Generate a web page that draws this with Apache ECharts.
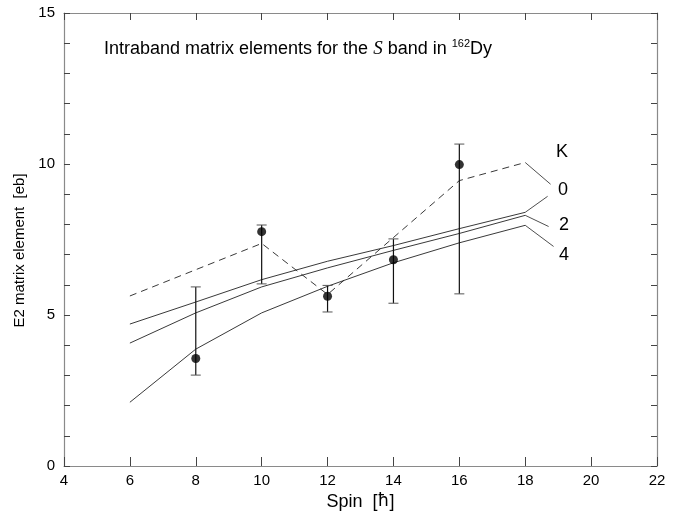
<!DOCTYPE html>
<html><head><meta charset="utf-8">
<script src="https://cdn.jsdelivr.net/npm/echarts@6/dist/echarts.min.js"></script>
<style>html,body{margin:0;padding:0;background:#fff}#c{width:686px;height:518px}</style>
</head><body><div id="c"></div>
<script>
// Spin values
const spins = [6, 8, 10, 12, 14, 16, 18];
// Theoretical curves (K = 0, 2, 4)
const k0 = [4.70, 5.43, 6.17, 6.78, 7.30, 7.86, 8.40];
const k2 = [4.07, 5.07, 5.93, 6.56, 7.14, 7.70, 8.30];
const k4 = [2.11, 3.87, 5.07, 5.95, 6.73, 7.39, 7.97];
// Dashed curve
const dashSpins = [6, 10, 12, 16, 18];
const dashVals = [5.63, 7.37, 5.68, 9.45, 10.05];
// Experimental points with errors
const expSpins = [8, 10, 12, 14, 16];
const expVals = [3.56, 7.76, 5.62, 6.83, 9.98];
const expLow = [3.01, 6.03, 5.10, 5.39, 5.70];
const expHigh = [5.93, 7.98, 5.98, 7.52, 10.66];
// Leader lines from curve ends to labels [from, to]
const leaderDash = [[18, 10.05], [18.77, 9.33]];
const leaderK0 = [[18, 8.40], [18.68, 8.93]];
const leaderK2 = [[18, 8.30], [18.71, 7.93]];
const leaderK4 = [[18, 7.97], [18.86, 7.27]];
const curveLabels = ['K', '0', '2', '4'];

const pair = (xs, ys) => xs.map((x, i) => [x, ys[i]]);
const lineCol = '#222';
const axisCol = '#8a8a8a';
const font = 'Liberation Sans, Arial, Helvetica, sans-serif';

const chart = echarts.init(document.getElementById('c'), null, {renderer: 'canvas'});

function solid(data, w) {
  return {type: 'line', data, showSymbol: false, symbol: 'none', silent: true,
    lineStyle: {color: lineCol, width: w || 0.9}, z: 3, animation: false};
}

chart.setOption({
  animation: false,
  backgroundColor: '#fff',
  title: {
    text: 'Intraband matrix elements for the {i|S} band in {sup|162}Dy',
    left: 99, top: 33,
    textStyle: {
      fontFamily: font, fontSize: 18, fontWeight: 'normal', color: '#000',
      rich: {
        i: {fontFamily: 'Liberation Serif, Times New Roman, serif', fontStyle: 'italic', fontSize: 19, color: '#000'},
        sup: {fontFamily: font, fontSize: 11, verticalAlign: 'bottom', padding: [0, 0, 11, 0], color: '#000'}
      }
    }
  },
  grid: {left: 64, right: 29, top: 13, bottom: 52},
  xAxis: [{
    type: 'value', min: 4, max: 22, interval: 2,
    name: 'Spin  [{h|ħ}]', nameLocation: 'middle', nameGap: 22,
    nameTextStyle: {fontFamily: font, fontSize: 18, color: '#000',
      rich: {h: {fontFamily: 'DejaVu Sans', fontSize: 17, color: '#000'}}},
    axisLine: {show: true, onZero: false, lineStyle: {color: axisCol, width: 1.2}},
    axisTick: {inside: true, length: 9, lineStyle: {color: '#444'}},
    axisLabel: {fontFamily: font, fontSize: 15, color: '#000', margin: 7},
    splitLine: {show: false}
  }, {
    type: 'value', min: 4, max: 22, interval: 2, position: 'top',
    axisLine: {show: true, onZero: false, lineStyle: {color: axisCol, width: 1.2}},
    axisTick: {inside: true, length: 7, lineStyle: {color: '#444'}},
    axisLabel: {show: false}, splitLine: {show: false}
  }],
  yAxis: [{
    type: 'value', min: 0, max: 15, interval: 5,
    name: 'E2 matrix element  [eb]', nameLocation: 'middle', nameGap: 25,
    nameTextStyle: {fontFamily: font, fontSize: 15, color: '#000', padding: [0, 22, 0, 0]},
    axisLine: {show: true, onZero: false, lineStyle: {color: axisCol, width: 1.2}},
    axisTick: {inside: true, length: 6, lineStyle: {color: '#444'}},
    minorTick: {show: true, splitNumber: 5, length: 6, lineStyle: {color: '#444'}},
    axisLabel: {fontFamily: font, fontSize: 15, color: '#000', margin: 9},
    splitLine: {show: false}
  }, {
    type: 'value', min: 0, max: 15, interval: 5, position: 'right',
    axisLine: {show: true, onZero: false, lineStyle: {color: axisCol, width: 1.2}},
    axisTick: {inside: true, length: 6, lineStyle: {color: '#444'}},
    minorTick: {show: true, splitNumber: 5, length: 6, lineStyle: {color: '#444'}},
    axisLabel: {show: false}, splitLine: {show: false}
  }],
  graphic: [
    {type: 'text', left: 556, top: 143, style: {text: curveLabels[0], font: '18px ' + font, fill: '#000'}},
    {type: 'text', left: 558, top: 181, style: {text: curveLabels[1], font: '18px ' + font, fill: '#000'}},
    {type: 'text', left: 559, top: 216, style: {text: curveLabels[2], font: '18px ' + font, fill: '#000'}},
    {type: 'text', left: 559, top: 246, style: {text: curveLabels[3], font: '18px ' + font, fill: '#000'}}
  ],
  series: [
    solid(pair(spins, k0)),
    solid(pair(spins, k2)),
    solid(pair(spins, k4)),
    {type: 'line', data: pair(dashSpins, dashVals), symbol: 'none', silent: true,
      lineStyle: {color: lineCol, width: 0.9, type: [7, 5]}, z: 3},
    solid(leaderDash, 0.8), solid(leaderK0, 0.8), solid(leaderK2, 0.8), solid(leaderK4, 0.8),
    {
      type: 'custom', silent: true, z: 4,
      data: expSpins.map((x, i) => [x, expLow[i], expHigh[i]]),
      renderItem: function (params, api) {
        const x = api.value(0);
        const lo = api.coord([x, api.value(1)]);
        const hi = api.coord([x, api.value(2)]);
        const hw = 5;
        const st = {stroke: '#111', lineWidth: 1.2};
        return {type: 'group', children: [
          {type: 'line', shape: {x1: lo[0], y1: lo[1], x2: hi[0], y2: hi[1]}, style: st},
          {type: 'line', shape: {x1: lo[0] - hw, y1: lo[1], x2: lo[0] + hw, y2: lo[1]}, style: {stroke: '#555', lineWidth: 1}},
          {type: 'line', shape: {x1: hi[0] - hw, y1: hi[1], x2: hi[0] + hw, y2: hi[1]}, style: {stroke: '#555', lineWidth: 1}}
        ]};
      }
    },
    {type: 'scatter', data: pair(expSpins, expVals), symbol: 'circle', symbolSize: 9,
      itemStyle: {color: '#000'}, z: 5, silent: true}
  ]
});
</script></body></html>
